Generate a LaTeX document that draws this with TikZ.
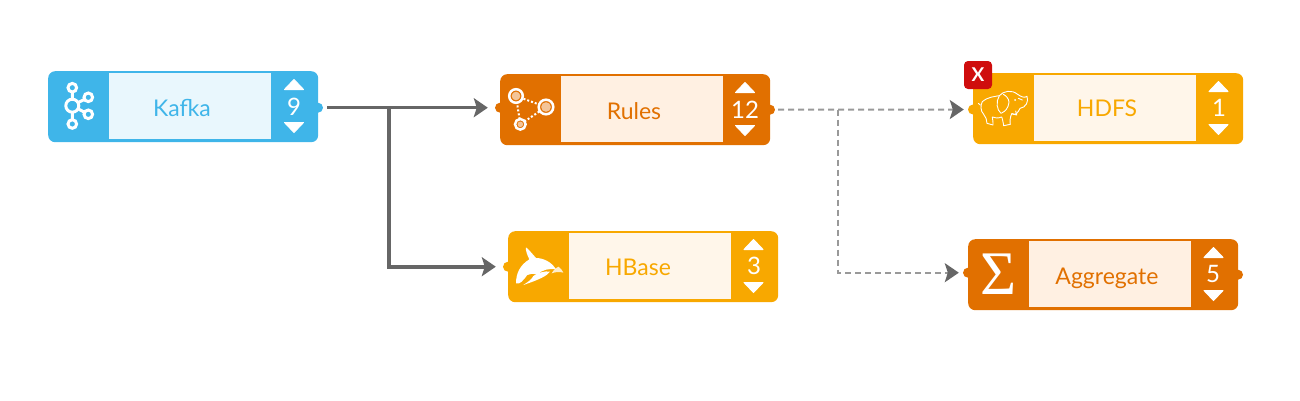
\documentclass[tikz,border=0pt]{standalone}
\usepackage{fontspec}
\setmainfont{Lato}
\newfontfamily\sigmafont{Liberation Serif}
\usetikzlibrary{arrows.meta}
\definecolor{kblue}{HTML}{3FB5E9}
\definecolor{kbluel}{HTML}{E9F7FD}
\definecolor{dorange}{HTML}{E17000}
\definecolor{dorangel}{HTML}{FFF0E2}
\definecolor{yorange}{HTML}{F8A800}
\definecolor{yorangel}{HTML}{FFF6EA}
\definecolor{flowgrey}{HTML}{666666}
\definecolor{dashgrey}{HTML}{999999}
\definecolor{badgered}{HTML}{CF0D0D}
\tikzset{
  x=1pt,y=-1pt,
  blockbody/.style={draw=none,fill=#1,rounded corners=7pt,minimum width=270pt,minimum height=71pt,inner sep=0pt,anchor=north west},
  blockinner/.style={draw=none,fill=#1,minimum width=162pt,minimum height=66pt,inner sep=0pt,anchor=north west},
  portdot/.style={circle,fill=#1,minimum size=10pt,inner sep=0pt},
  blocklabel/.style={text=#1,font=\fontsize{23}{23}\selectfont,inner sep=0pt,anchor=base},
  countlabel/.style={text=white,font=\fontsize{24}{24}\selectfont,inner sep=0pt,anchor=base},
  spin/.style={fill=white,draw=white,line width=1pt,line join=round},
  flow/.style={draw=flowgrey,line width=3pt,-{Stealth[length=14pt,width=19pt,inset=3pt,color=flowgrey]}},
  flowthick/.style={flow,line width=4pt},
  dashflow/.style={draw=dashgrey,line width=2pt,dash pattern=on 6pt off 4pt,-{Stealth[length=14pt,width=19pt,inset=3pt,color=flowgrey]}},
  icoline/.style={draw=white,line width=3pt,fill=none},
  eleline/.style={draw=white,line width=0.9pt,fill=none,line cap=round,line join=round},
}
\newcommand{\spinners}[3]{% cx, top, unused
  \path[spin] (#1-9.5,#2+18.5) -- (#1,#2+8.5) -- (#1+9.5,#2+18.5) -- cycle;
  \path[spin] (#1-9.5,#2+51.5) -- (#1,#2+61.5) -- (#1+9.5,#2+51.5) -- cycle;
}
\begin{document}
\begin{tikzpicture}
\useasboundingbox (0,0) rectangle (1300,400);
% ports
\node[portdot=kblue] (kafkaout) at (318,107.7) {};
\node[portdot=dorange] (rulesin) at (500,107.7) {};
\node[portdot=dorange] (rulesout) at (770,109.7) {};
\node[portdot=yorange] (hdfsin) at (973,109.5) {};
\node[portdot=yorange] (hbasein) at (508,266.7) {};
\node[portdot=dorange] (aggin) at (968,272.7) {};
\node[portdot=dorange] (aggout) at (1238,274.7) {};
% bodies
\node[blockbody=kblue] (kafka) at (48,71) {};
\node[blockinner=kbluel] (kafkainner) at (109,73) {};
\node[blockbody=dorange] (rules) at (500,74) {};
\node[blockinner=dorangel] (rulesinner) at (561,76) {};
\node[blockbody=yorange] (hdfs) at (973,73) {};
\node[blockinner=yorangel] (hdfsinner) at (1034,75) {};
\node[blockbody=yorange] (hbase) at (508,231) {};
\node[blockinner=yorangel] (hbaseinner) at (569,233) {};
\node[blockbody=dorange] (agg) at (968,239) {};
\node[blockinner=dorangel] (agginner) at (1029,241) {};
% labels
\node[blocklabel=kblue] (kafkatext) at (182,116) {Kafka};
\node[blocklabel=dorange] (rulestext) at (634,119) {Rules};
\node[blocklabel=yorange] (hdfstext) at (1107,116) {HDFS};
\node[blocklabel=yorange] (hbasetext) at (638,275) {HBase};
\node[blocklabel=dorange] (aggtext) at (1107,284) {Aggregate};
\node[countlabel] (kafkacount) at (294,115.5) {9};
\node[countlabel] (rulescount) at (745,118) {12};
\node[countlabel] (hdfscount) at (1219,116.5) {1};
\node[countlabel] (hbasecount) at (754,274) {3};
\node[countlabel] (aggcount) at (1213,282) {5};
\spinners{294}{71}{}
\spinners{745}{74}{}
\spinners{1218.5}{73}{}
\spinners{753.5}{231}{}
\spinners{1213.5}{239}{}
% connectors
\coordinate (kbranch) at (389,107.7);
\coordinate (dbranch) at (838,109.7);
\draw[flow,shorten <=4pt,shorten >=7pt] (kafkaout) -- (rulesin);
\draw[flowthick,shorten >=7pt] (kbranch) |- (hbasein);
\draw[dashflow,shorten <=3pt,shorten >=4pt] (rulesout) -- (hdfsin);
\draw[dashflow,shorten >=4pt] (dbranch) |- (aggin);
% Kafka icon
\draw[icoline] (72.3,105.7) -- (72.3,87.7) (72.3,105.7) -- (72.3,124) (72.3,105.7) -- (88.3,97.3) (72.3,105.7) -- (88.3,114.3);
\foreach \p/\r in {{72.3,105.7}/6.5,{72.3,87.7}/4.3,{72.3,124}/4.3,{88.3,97.3}/4.3,{88.3,114.3}/4.3}{
  \draw[draw=white,line width=3pt,fill=kblue] (\p) circle[radius=\r];
}
% Rules icon
\draw[draw=white,line width=2pt,dash pattern=on 2pt off 2pt] (516,96) -- (546,107) -- (520.3,124.3) -- cycle;
\foreach \p/\r in {{516,96}/6.8,{546,107}/7.3,{520.3,124.3}/5.3}{
  \draw[draw=white,line width=2.5pt,fill=dorange] (\p) circle[radius=\r];
  \fill[white,opacity=.6] (\p) circle[radius=\r-2.5];
}
% Hadoop elephant icon
\begin{scope}[shift={(965,55)},x=0.3333pt,y=-0.3333pt]
\draw[eleline] (52,140) .. controls (70,125) and (88,125) .. (103,122)
  .. controls (115,108) and (140,103) .. (158,118)
  .. controls (168,125) and (178,130) .. (186,124)
  .. controls (192,140) and (182,158) .. (165,160)
  .. controls (160,172) and (150,184) .. (140,176)
  .. controls (135,188) and (134,200) .. (136,208)
  -- (116,212) .. controls (114,200) and (112,190) .. (110,186)
  .. controls (100,190) and (90,190) .. (82,186)
  .. controls (82,195) and (86,205) .. (84,210)
  -- (66,205) .. controls (66,195) and (62,185) .. (56,178)
  .. controls (46,168) and (46,150) .. (52,140);
\draw[eleline] (103,122) .. controls (92,140) and (95,165) .. (108,175) .. controls (120,170) and (130,160) .. (132,142) .. controls (132,130) and (122,122) .. (115,118);
\draw[eleline] (142,176) -- (155,180) -- (152,168);
\fill[white] (150,135) circle[radius=3];
\draw[eleline] (160,130) -- (172,135) (46,150) -- (40,145);
\end{scope}
% HBase orca icon
\begin{scope}[shift={(500,230)},x=0.3333pt,y=-0.3333pt]
\fill[white] (48,160) .. controls (48,130) and (60,105) .. (88,88)
  .. controls (82,75) and (76,62) .. (78,52)
  .. controls (88,60) and (100,75) .. (108,84)
  .. controls (130,84) and (155,96) .. (168,118)
  .. controls (150,115) and (125,118) .. (112,135)
  .. controls (100,130) and (90,130) .. (82,135)
  .. controls (70,150) and (60,165) .. (48,160) -- cycle;
\fill[white] (100,138) .. controls (115,128) and (135,122) .. (150,125) .. controls (140,138) and (120,148) .. (70,165) .. controls (85,155) and (95,148) .. (100,138) -- cycle;
\fill[white,opacity=.8] (155,130) .. controls (160,120) and (170,112) .. (176,110) .. controls (182,115) and (188,122) .. (190,128) .. controls (180,125) and (168,125) .. (155,130) -- cycle;
\end{scope}
% Sigma
\node[text=white,inner sep=0pt,font={\sigmafont\fontsize{62}{62}\selectfont}] (sigma) at (998.7,274.3) {Σ};
% badge
\node[fill=badgered,rounded corners=4pt,minimum size=28pt,inner sep=0pt,text=white,font=\bfseries\fontsize{19}{19}\selectfont] (badge) at (978,75) {X};
\end{tikzpicture}
\end{document}
